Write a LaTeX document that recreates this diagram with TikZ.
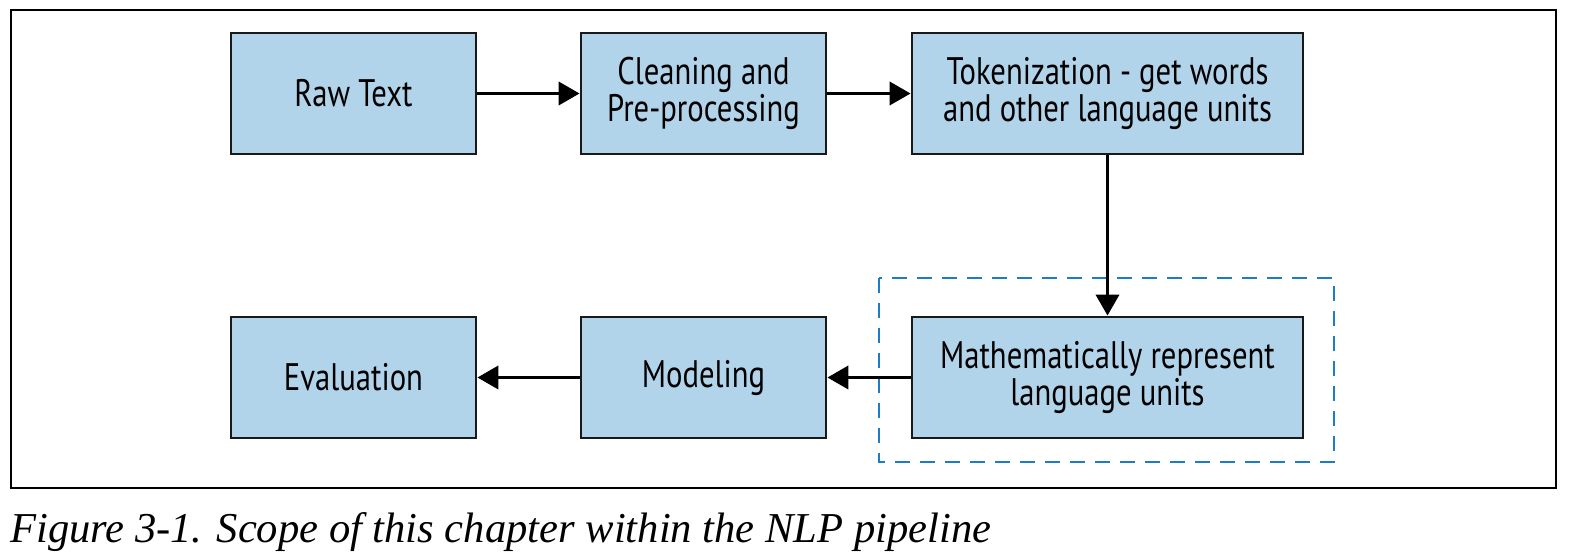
\documentclass[tikz,border=0pt]{standalone}
\usepackage{fontspec}
\usetikzlibrary{arrows.meta}
\newfontfamily\boxfont[FakeStretch=0.80]{PT Sans}
\newfontfamily\capfont{Liberation Serif}
\definecolor{boxfill}{RGB}{178,212,234}
\definecolor{boxline}{RGB}{25,25,25}
\definecolor{dashblue}{RGB}{28,124,200}
\tikzset{
  stage/.style={draw=boxline, line width=2.8bp, fill=boxfill, minimum height=121bp,
    inner sep=0pt, align=center, font=\boxfont\fontsize{38.5}{37}\selectfont},
  flow/.style={line width=3.8bp, -{Triangle[length=21bp,width=23bp]}},
}
\begin{document}
\begin{tikzpicture}[x=1bp,y=-1bp]
\useasboundingbox (0,0) rectangle (1578,559);
\draw[line width=1.6bp] (11,10) rectangle (1556,488);
\draw[dashblue, line width=2.6bp, dash pattern=on 15bp off 10bp] (879,278) rectangle (1334,462);
\node[stage, minimum width=245bp] (raw) at (353.5,93.5) {Raw Text};
\node[stage, minimum width=245bp] (clean) at (703.5,93.5) {Cleaning and\\Pre-processing};
\node[stage, minimum width=391bp] (tok) at (1107.5,93.5) {Tokenization - get words\\and other language units};
\node[stage, minimum width=391bp] (math) at (1107.5,377.5) {Mathematically represent\\language units};
\node[stage, minimum width=245bp] (model) at (703.5,377.5) {Modeling};
\node[stage, minimum width=245bp] (eval) at (353.5,377.5) {Evaluation};
\draw[flow] (raw) -- (clean);
\draw[flow] (clean) -- (tok);
\draw[flow] (tok) -- (math);
\draw[flow] (math) -- (model);
\draw[flow] (model) -- (eval);
\node[anchor=base west, inner sep=0pt] (cap) at (10,542) {\resizebox{981bp}{!}{\capfont\fontsize{40}{48}\selectfont\itshape Figure 3-1. Scope of this chapter within the NLP pipeline}};
\end{tikzpicture}
\end{document}
